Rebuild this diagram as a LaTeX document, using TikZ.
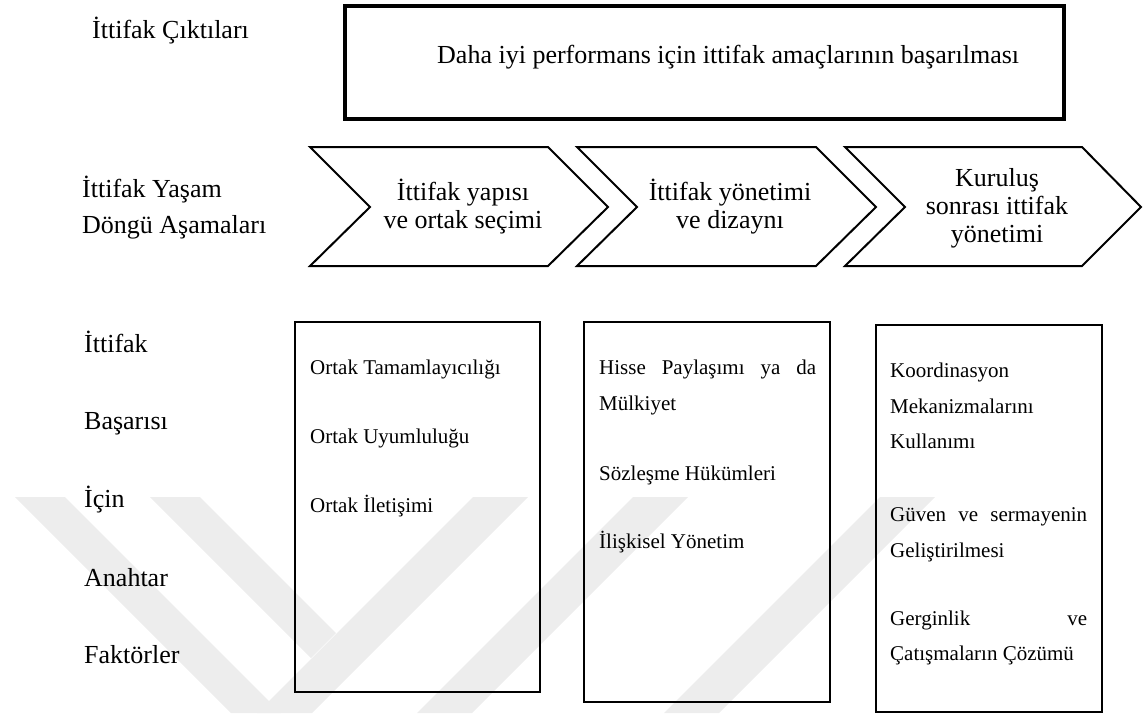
\documentclass[tikz,border=0pt]{standalone}
\usepackage{fontspec}
\setmainfont{Liberation Serif}
\begin{document}
\begin{tikzpicture}[x=1pt,y=-1pt,
  lbl/.style={anchor=base west,inner sep=0pt,font=\fontsize{26}{26}\selectfont},
  ctxt/.style={anchor=base,inner sep=0pt,font=\fontsize{26}{26}\selectfont},
  btxt/.style={anchor=base west,inner sep=0pt,font=\fontsize{21}{21}\selectfont},
  chev/.style={draw,line width=2pt,line join=miter},
  panel/.style={draw,line width=2pt},
  outbox/.style={draw,line width=4pt},
  band/.style={fill=black!7,draw=none}]
\useasboundingbox (0,0) rectangle (1143,713);

% faint background emblem (diagonal bands)
\fill[band] (15,497) -- (65,497) -- (281,713) -- (231,713) -- cycle;
\fill[band] (150,497) -- (200,497) -- (336,633) -- (311,658) -- cycle;
\fill[band] (473,497) -- (528,497) -- (312,713) -- (257,713) -- cycle;
\fill[band] (633,497) -- (688,497) -- (472,713) -- (417,713) -- cycle;
\fill[band] (880,497) -- (935,497) -- (719,713) -- (664,713) -- cycle;

% outcome row
\node[lbl] (outl) at (92,38) {İttifak Çıktıları};
\draw[outbox] (345,6) rectangle (1064,119);
\node[lbl] (outt) at (437,63) {Daha iyi performans için ittifak amaçlarının başarılması};

% life-cycle row
\node[lbl] (lc1) at (82,197) {İttifak Yaşam};
\node[lbl] (lc2) at (82,233) {Döngü Aşamaları};
\draw[chev] (310,147) -- (548,147) -- (608,207) -- (548,266) -- (310,266) -- (370,207) -- cycle;
\draw[chev] (577,147) -- (816,147) -- (876,207) -- (816,266) -- (577,266) -- (637,207) -- cycle;
\draw[chev] (845,147) -- (1082,147) -- (1141,207) -- (1082,266) -- (845,266) -- (905,207) -- cycle;
\node[ctxt] (s1a) at (463,200) {İttifak yapısı};
\node[ctxt] (s1b) at (463,228) {ve ortak seçimi};
\node[ctxt] (s2a) at (730,200) {İttifak yönetimi};
\node[ctxt] (s2b) at (730,228) {ve dizaynı};
\node[ctxt] (s3a) at (997,186) {Kuruluş};
\node[ctxt] (s3b) at (997,214) {sonrası ittifak};
\node[ctxt] (s3c) at (997,242) {yönetimi};

% key factors row
\node[lbl] (k1) at (84,352) {İttifak};
\node[lbl] (k2) at (84,429) {Başarısı};
\node[lbl] (k3) at (84,507) {İçin};
\node[lbl] (k4) at (84,586) {Anahtar};
\node[lbl] (k5) at (84,663) {Faktörler};

\draw[panel] (295,322) rectangle (540,692);
\draw[panel] (584,322) rectangle (830,702);
\draw[panel] (876,325) rectangle (1102,712);

\node[btxt] (p1a) at (310,374) {Ortak Tamamlayıcılığı};
\node[btxt] (p1b) at (310,443) {Ortak Uyumluluğu};
\node[btxt] (p1c) at (310,512) {Ortak İletişimi};

\node[btxt] (p2a) at (599,374) {\makebox[217pt][s]{Hisse Paylaşımı ya da}};
\node[btxt] (p2b) at (599,410) {Mülkiyet};
\node[btxt] (p2c) at (599,480) {Sözleşme Hükümleri};
\node[btxt] (p2d) at (599,548) {İlişkisel Yönetim};

\node[btxt] (p3a) at (890,377) {Koordinasyon};
\node[btxt] (p3b) at (890,413) {Mekanizmalarını};
\node[btxt] (p3c) at (890,448) {Kullanımı};
\node[btxt] (p3d) at (890,521) {\makebox[197pt][s]{Güven ve sermayenin}};
\node[btxt] (p3e) at (890,557) {Geliştirilmesi};
\node[btxt] (p3f) at (890,625) {\makebox[197pt][s]{Gerginlik ve}};
\node[btxt] (p3g) at (890,660) {Çatışmaların Çözümü};
\end{tikzpicture}
\end{document}
